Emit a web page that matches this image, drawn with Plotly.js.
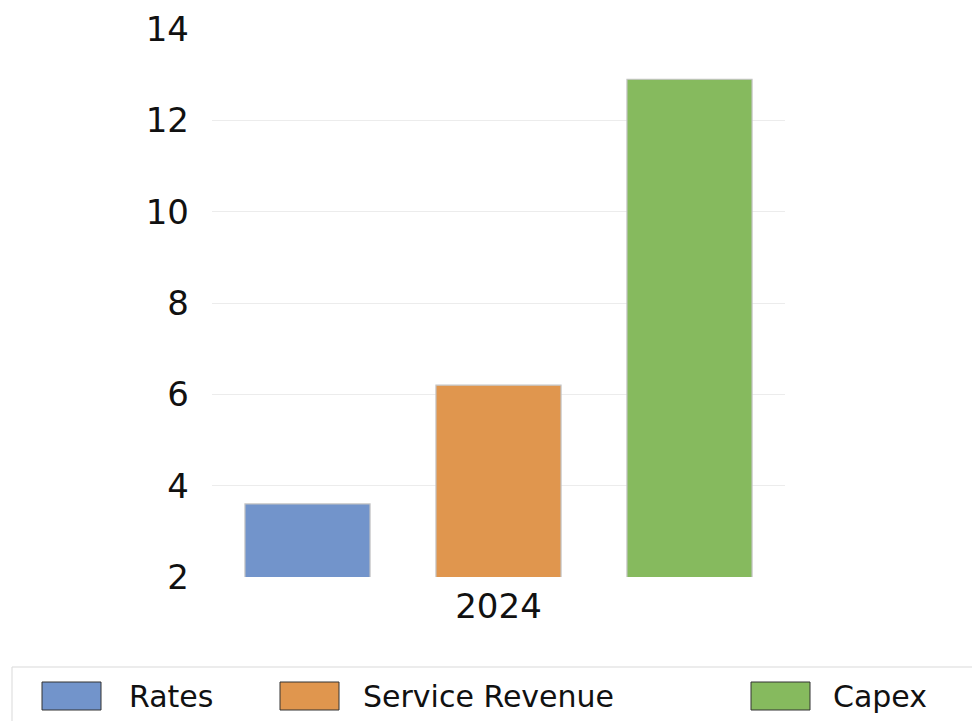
<!DOCTYPE html>
<html>
<head>
<meta charset="utf-8">
<script src="https://cdn.plot.ly/plotly-3.0.1.min.js"></script>
<style>
  html, body { margin: 0; padding: 0; background: #fff; }
  #chart { width: 972px; height: 721px; }
</style>
</head>
<body>
<div id="chart"></div>
<script>
// data
const years = ["2024"]
const seriesNames = ["Rates", "Service Revenue", "Capex"]
const rates = [3.6]
const serviceRevenue = [6.2]
const capex = [12.9]
const seriesColors = ["#7294CB", "#E0964E", "#86BA5E"]
const yTicks = [2, 4, 6, 8, 10, 12, 14]

const FONT = "DejaVu Sans, Verdana, sans-serif"

const values = [rates, serviceRevenue, capex]

let traces = seriesNames.map(function(name, i){
    return {
        type: "bar",
        name: name,
        x: years,
        y: values[i],
        marker: {
            color: seriesColors[i],
            line: {color: "#c4c4c4", width: 1.2}
        },
        hoverinfo: "name+y"
    }
})

// hand-made legend (big swatches like the original)
const legendSwatchX = [42, 280, 751]
const legendTextX = [127, 361, 831]
const W = 972, H = 721

const margin = {l: 212, r: 187, t: 29, b: 144}
const plotW = W - margin.l - margin.r
const plotH = H - margin.t - margin.b
// pixel -> paper coords (paper is the plot area)
const ppx = function(x){ return (x - margin.l) / plotW }
const ppy = function(y){ return (H - margin.b - y) / plotH }

let shapes = [{
    type: "rect", xref: "paper", yref: "paper",
    x0: ppx(12), x1: ppx(990), y0: ppy(740), y1: ppy(667),
    line: {color: "#d9d9d9", width: 1}, fillcolor: "rgba(0,0,0,0)"
}]
let annotations = []

seriesNames.forEach(function(name, i){
    shapes.push({
        type: "rect", xref: "paper", yref: "paper",
        x0: ppx(legendSwatchX[i]), x1: ppx(legendSwatchX[i] + 59),
        y0: ppy(710), y1: ppy(682),
        fillcolor: seriesColors[i],
        line: {color: "#333333", width: 1}
    })
    annotations.push({
        xref: "paper", yref: "paper",
        x: ppx(legendTextX[i]), y: ppy(696),
        xanchor: "left", yanchor: "middle",
        text: name, showarrow: false,
        font: {family: FONT, size: 30, color: "#111111"}
    })
})

const layout = {
    width: W,
    height: H,
    margin: margin,
    paper_bgcolor: "#ffffff",
    plot_bgcolor: "#ffffff",
    barmode: "group",
    bargap: 0,
    bargroupgap: 0.345,
    showlegend: false,
    font: {family: FONT, color: "#111111"},
    xaxis: {
        type: "category",
        showgrid: false,
        showline: false,
        zeroline: false,
        ticks: "",
        ticklabelstandoff: 6,
        tickfont: {family: FONT, size: 34, color: "#111111"}
    },
    yaxis: {
        range: [2, 14],
        tickvals: yTicks,
        ticktext: yTicks.map(String),
        showgrid: true,
        gridcolor: "#ececec",
        gridwidth: 1,
        zeroline: false,
        showline: false,
        ticks: "",
        ticklabelstandoff: 22,
        tickfont: {family: FONT, size: 34, color: "#111111"}
    },
    shapes: shapes,
    annotations: annotations
}

Plotly.newPlot("chart", traces, layout, {displayModeBar: false, staticPlot: true})
</script>
</body>
</html>
